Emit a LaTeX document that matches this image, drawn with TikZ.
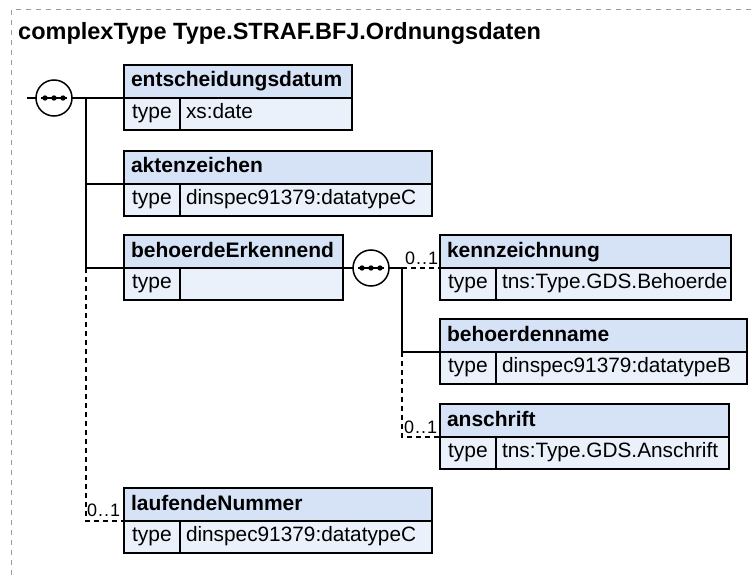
\documentclass[tikz,border=0pt]{standalone}
\usepackage{fontspec}
\setmainfont{Liberation Sans}
\usepackage{xcolor}
\usetikzlibrary{positioning,calc}
\definecolor{HeadBlue}{HTML}{D6E3F7}
\definecolor{TypeBlue}{HTML}{EAF1FB}
\definecolor{FrameGray}{HTML}{9A9A9A}

\tikzset{
  elhead/.style={draw=black,fill=HeadBlue,line width=1.5pt,outer sep=0pt,minimum height=33pt,
    inner xsep=7pt,anchor=south west,align=left,text height=15pt,text depth=4pt,
    font=\fontsize{21}{24}\selectfont\bfseries},
  eltype/.style={draw=black,fill=TypeBlue,line width=1.5pt,outer sep=0pt,minimum height=32pt,
    minimum width=56pt,inner xsep=0pt,anchor=north west,text height=14pt,text depth=5pt,
    font=\fontsize{21}{24}\selectfont},
  elval/.style={draw=black,fill=TypeBlue,line width=1.5pt,outer sep=0pt,minimum height=32pt,
    inner xsep=6pt,anchor=north west,align=left,text height=14pt,text depth=5pt,
    font=\fontsize{20.8}{24}\selectfont},
  seqnode/.style={circle,draw=black,fill=white,line width=1.5pt,outer sep=0pt,minimum size=36pt,inner sep=0pt,
    path picture={
      \draw[black,line width=1.4pt] ([xshift=-13pt]path picture bounding box.center) -- ([xshift=13pt]path picture bounding box.center);
      \foreach \dx in {-9,0,9}
        \fill[black] ([xshift=\dx pt]path picture bounding box.center) circle[radius=2.7pt];
    }},
  link/.style={line width=1.5pt},
  optlink/.style={line width=1.5pt,dash pattern=on 5pt off 4pt},
  card/.style={anchor=base west,inner sep=0pt,font=\fontsize{18}{20}\selectfont}
}

% name, left x, header bottom y, box width, label, type
\newcommand{\elembox}[6]{%
  \node[elhead,text width=\the\numexpr#4-14\relax pt] (#1) at (#2,#3) {#5};
  \node[eltype] (#1t) at (#1.south west) {type};
  \node[elval,text width=\the\numexpr#4-68\relax pt] (#1v) at (#1t.north east) {#6};
}
\newcommand{\zeroone}{0\kern1pt.\kern1pt.\kern1pt1}

\begin{document}
\begin{tikzpicture}[x=1pt,y=-1pt]
  \useasboundingbox (0,0) rectangle (753,575);
  \draw[FrameGray,line width=1pt,dash pattern=on 5pt off 5pt] (11,575) -- (11,10) -- (753,10);
  \node[anchor=base west,inner sep=0pt,font=\fontsize{23.5}{27}\selectfont\bfseries] (title) at (18,40)
    {complexType Type.STRAF.BFJ.Ordnungsdaten};

  % elements
  \elembox{ent}{124}{98}{228}{entscheidungsdatum}{xs:date}
  \elembox{akz}{124}{184}{308}{aktenzeichen}{dinspec91379:datatypeC}
  \elembox{beh}{124}{268}{219}{behoerdeErkennend}{}
  \elembox{knz}{440}{268}{291}{kennzeichnung}{tns:Type.GDS.Behoerde}
  \elembox{bhn}{440}{352}{307}{behoerdenname}{dinspec91379:datatypeB}
  \elembox{ans}{440}{437}{289}{anschrift}{tns:Type.GDS.Anschrift}
  \elembox{lfd}{124}{521}{308}{laufendeNummer}{dinspec91379:datatypeC}

  % outer sequence
  \coordinate (stub) at (27,98);
  \coordinate (j1) at (86,98);
  \node[seqnode] (seq1) at (54,98) {};
  \draw[link] (stub) -- (seq1);
  \draw[link] (seq1) -- (ent.south west);
  \draw[link] (j1) -- (j1 |- beh.south west);
  \draw[link] (j1 |- akz.south west) -- (akz.south west);
  \draw[link] (j1 |- beh.south west) -- (beh.south west);
  \draw[optlink] (j1 |- beh.south west) -- (j1 |- lfd.south west) -- (lfd.south west);
  \node[card] (clfd) at ($(j1 |- lfd.south west)+(1,-5)$) {\zeroone};

  % inner sequence
  \node[seqnode] (seq2) at (371,268) {};
  \coordinate (j2) at (402,268);
  \draw[link] (beh.south east) -- (seq2);
  \draw[link] (seq2) -- (j2);
  \draw[optlink] (j2) -- (knz.south west);
  \node[card] (cknz) at ($(j2)+(3,-4)$) {\zeroone};
  \draw[link] (j2) -- (j2 |- bhn.south west) -- (bhn.south west);
  \draw[optlink] (j2 |- bhn.south west) -- (j2 |- ans.south west) -- (ans.south west);
  \node[card] (cans) at ($(j2 |- ans.south west)+(2,-4)$) {\zeroone};
\end{tikzpicture}
\end{document}
